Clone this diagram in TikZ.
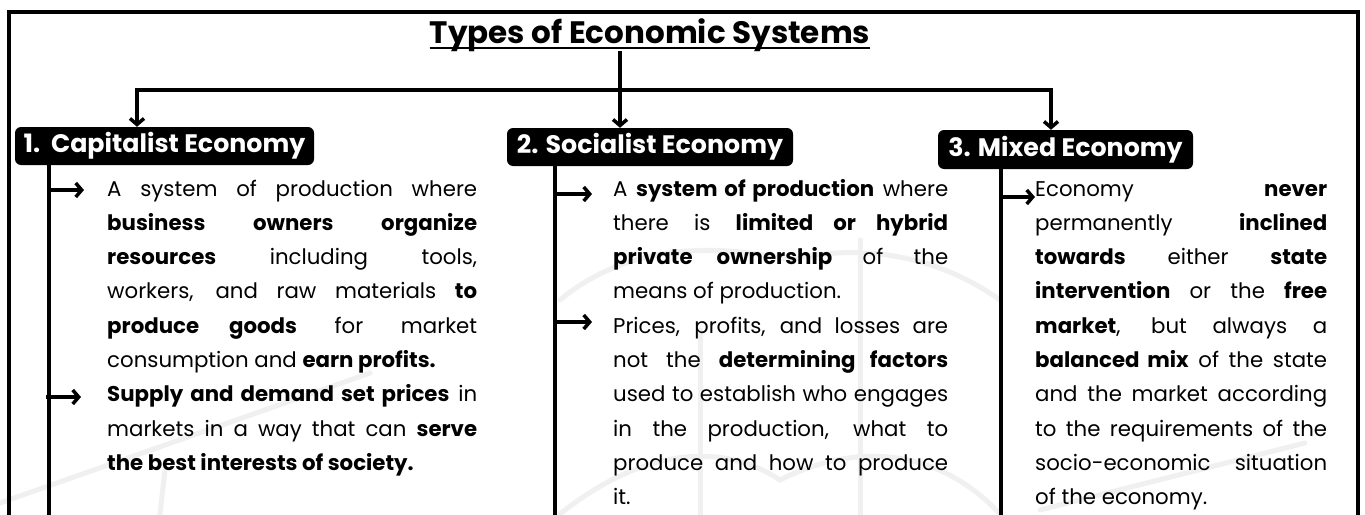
\documentclass[tikz,border=0pt]{standalone}
\usepackage{fontspec}
\setmainfont{Poppins}
\usetikzlibrary{arrows.meta}
\tolerance=10000
\hyphenpenalty=10000
\hbadness=10000
\begin{document}
\begin{tikzpicture}[x=1pt,y=-1pt,
  conn/.style={line width=3.5pt},
  tipped/.style={conn,-{Straight Barb[length=6pt,width=14pt]}},
  catbox/.style={fill=black,text=white,rounded corners=6pt,inner sep=0pt,
    font=\bfseries\fontsize{25.3}{27}\selectfont},
  body/.style={anchor=base west,inner sep=0pt,align=justify,
    font=\fontsize{21.3}{34.3}\selectfont},
  wm/.style={draw=black!6,line width=5pt,line cap=round}]
\useasboundingbox (0,0) rectangle (1365,514);
\fill[white] (0,0) rectangle (1365,514);
% faint watermark
\draw[wm] (0,503) -- (370,373);
\draw[wm] (165,470) -- (160,514);
\draw[wm] (560,300) .. controls (620,250) and (700,240) .. (790,260);
\draw[wm] (790,260) .. controls (850,245) and (930,250) .. (1000,300);
\draw[wm] (700,330) -- (700,514);
\draw[wm] (860,240) -- (860,514);
\draw[wm] (560,514) .. controls (640,450) and (720,440) .. (780,480);
\draw[wm] (780,480) .. controls (860,440) and (940,450) .. (1000,514);
\draw[wm] (1040,510) -- (1305,443);
% frame
\draw[line width=4pt] (9,530) -- (9,12) -- (1358,12) -- (1358,530);
% title
\node[inner sep=0pt,anchor=base,font=\bfseries\fontsize{31}{34}\selectfont] (title) at (650,43) {Types of Economic Systems};
\draw[line width=2.5pt] ([yshift=-5pt]title.base west) -- ([yshift=-5pt]title.base east);
% category boxes
\node[catbox,minimum width=299pt,minimum height=38pt] (cap) at (164.5,146) {1.\ \ Capitalist Economy};
\node[catbox,minimum width=286pt,minimum height=38pt] (soc) at (650,147) {2. Socialist Economy};
\node[catbox,minimum width=255pt,minimum height=39pt] (mix) at (1065.5,149.5) {3. Mixed Economy};
% connectors
\coordinate (j1) at (137,90);
\coordinate (j2) at (620,90);
\coordinate (j3) at (1051,90);
\draw[conn] (title.south -| j2) -- (j2);
\draw[conn,{Straight Barb[length=6pt,width=14pt]}-{Straight Barb[length=6pt,width=14pt]}] (cap.north -| j1) |- (j2) -| (mix.north -| j3);
\draw[tipped] (j2) -- (soc.north -| j2);
% column spines
\coordinate (c0) at (49,530);
\coordinate (s0) at (555,530);
\coordinate (m0) at (1001,530);
\draw[conn] (cap.south -| c0) -- (c0);
\draw[conn] (soc.south -| s0) -- (s0);
\draw[conn] (mix.south -| m0) -- (m0);
% bullet arrows
\coordinate (ca1) at (49,190); \coordinate (ca1e) at (84,190);
\coordinate (ca2) at (46,397); \coordinate (ca2e) at (81,397);
\coordinate (sa1) at (555,194); \coordinate (sa1e) at (592,194);
\coordinate (sa2) at (555,322); \coordinate (sa2e) at (592,322);
\coordinate (ma1) at (1001,197); \coordinate (ma1e) at (1035,197);
\draw[tipped] (ca1) -- (ca1e);
\draw[tipped] (ca2) -- (ca2e);
\draw[tipped] (sa1) -- (sa1e);
\draw[tipped] (sa2) -- (sa2e);
\draw[tipped] (ma1) -- (ma1e);
% texts
\node[body,text width=370pt] (captext) at (107,196) {A system of production where\linebreak
\textbf{business owners organize}\linebreak
\textbf{resources} including tools,\linebreak
workers, and raw materials \textbf{to}\linebreak
\textbf{produce goods} for market\linebreak
consumption and \textbf{earn profits.}\par
\textbf{Supply and demand set prices} in\linebreak
markets in a way that can \textbf{serve}\linebreak
\textbf{the best interests of society.}};
\node[body,text width=335pt] (soctext) at (613,196) {A \textbf{system of production} where\linebreak
there is \textbf{limited or hybrid}\linebreak
\textbf{private ownership} of the\linebreak
means of production.\par
Prices, profits, and losses are\linebreak
not the \textbf{determining factors}\linebreak
used to establish who engages\linebreak
in the production, what to\linebreak
produce and how to produce\linebreak
it.};
\node[body,text width=292pt] (mixtext) at (1035,196) {Economy \textbf{never}\linebreak
permanently \textbf{inclined}\linebreak
\textbf{towards} either \textbf{state}\linebreak
\textbf{intervention} or the \textbf{free}\linebreak
\textbf{market}, but always a\linebreak
\textbf{balanced mix} of the state\linebreak
and the market according\linebreak
to the requirements of the\linebreak
socio-economic situation\linebreak
of the economy.};
\end{tikzpicture}
\end{document}
